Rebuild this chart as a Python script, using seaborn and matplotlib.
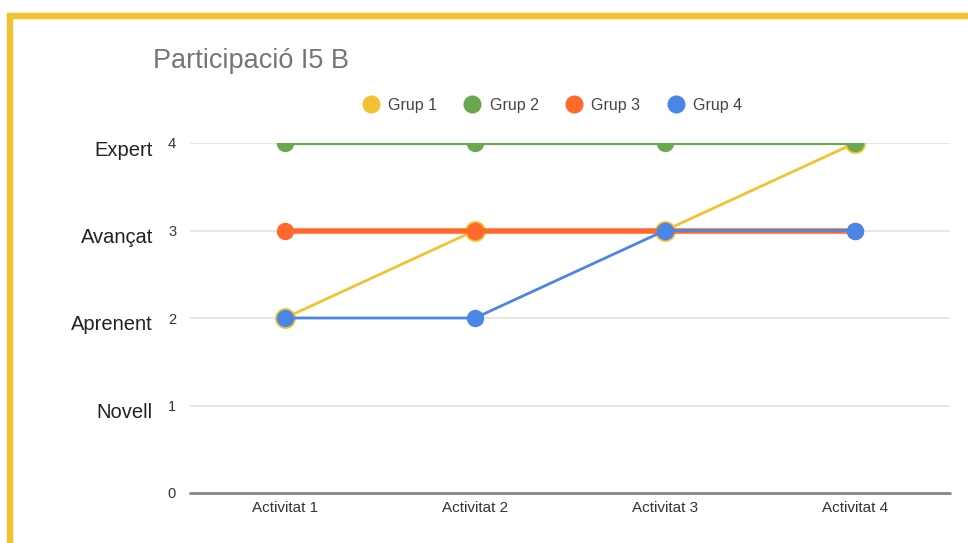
import matplotlib
matplotlib.use("Agg")
import matplotlib.pyplot as plt
from matplotlib.lines import Line2D
from matplotlib.patches import Rectangle
import seaborn as sns
import pandas as pd

activities = ["Activitat 1", "Activitat 2", "Activitat 3", "Activitat 4"]
groups = ["Grup 1", "Grup 2", "Grup 3", "Grup 4"]
grup1 = [2, 3, 3, 4]
grup2 = [4, 4, 4, 4]
grup3 = [3, 3, 3, 3]
grup4 = [2, 2, 3, 3]
level_labels = ["Novell", "Aprenent", "Avançat", "Expert"]
level_values = [1, 2, 3, 4]
title = "Participació I5 B"

colors = ["#f1c232", "#6aa84f", "#ff6a2c", "#4a86e8"]
lws = [2.0, 3.0, 4.0, 2.0]
mss = [15, 12.5, 12.5, 12.5]

sns.set_theme(style="white")
plt.rcParams["font.family"] = ["Liberation Sans", "DejaVu Sans"]

fig = plt.figure(figsize=(9.68, 5.43), dpi=100)
ax = fig.add_axes([190/968, 1-493/543, 760/968, 350/543])

series = [grup1, grup2, grup3, grup4]
for i, (g, vals) in enumerate(zip(groups, series)):
    df = pd.DataFrame({"act": activities, "val": vals})
    sns.lineplot(data=df, x="act", y="val", ax=ax, color=colors[i],
                 linewidth=lws[i], marker="o", markersize=mss[i],
                 markeredgewidth=0, sort=False, zorder=2 + i)

ax.set_xlim(-0.5, 3.5)
ax.set_ylim(0, 4)
ax.set_yticks([0, 1, 2, 3, 4])
ax.set_yticklabels(["0", "1", "2", "3", "4"])
ax.set_xlabel("")
ax.set_ylabel("")
for y in [1, 2, 3, 4]:
    ax.axhline(y, color="#e3e3e3", linewidth=1.2, zorder=0)
ax.axhline(0, color="#858585", linewidth=2.0, zorder=1, clip_on=False)
for s in ax.spines.values():
    s.set_visible(False)
ax.tick_params(axis="y", length=0, pad=10, labelsize=10.5, labelcolor="#333333")
ax.tick_params(axis="x", length=0, pad=6, labelsize=11, labelcolor="#333333")

# level names left of tick numbers
for lab, v in zip(level_labels, level_values):
    ax.text(-0.5 - 37/190.0, v - 0.08, lab, ha="right", va="center",
            fontsize=14.5, color="#222222")

fig.text(153/968, 1-61/543, title, fontsize=19.5, color="#757575",
         ha="left", va="center")

handles = [Line2D([0], [0], marker="o", linestyle="", markersize=13,
                  markerfacecolor=c, markeredgewidth=0) for c in colors]
fig.legend(handles, groups, loc="center", bbox_to_anchor=(550/968, 1-105/543),
           ncol=4, frameon=False, fontsize=11.5, handletextpad=0.3,
           handlelength=1.6, columnspacing=1.4, labelcolor="#444444")

# yellow frame
fig.patches.append(Rectangle((7/968, 0), 5/968, 1-13/543, transform=fig.transFigure,
                             color="#f1c232", zorder=10))
fig.patches.append(Rectangle((7/968, 1-18/543), 1, 5/543, transform=fig.transFigure,
                             color="#f1c232", zorder=10))

fig.savefig("out.png", dpi=100)
